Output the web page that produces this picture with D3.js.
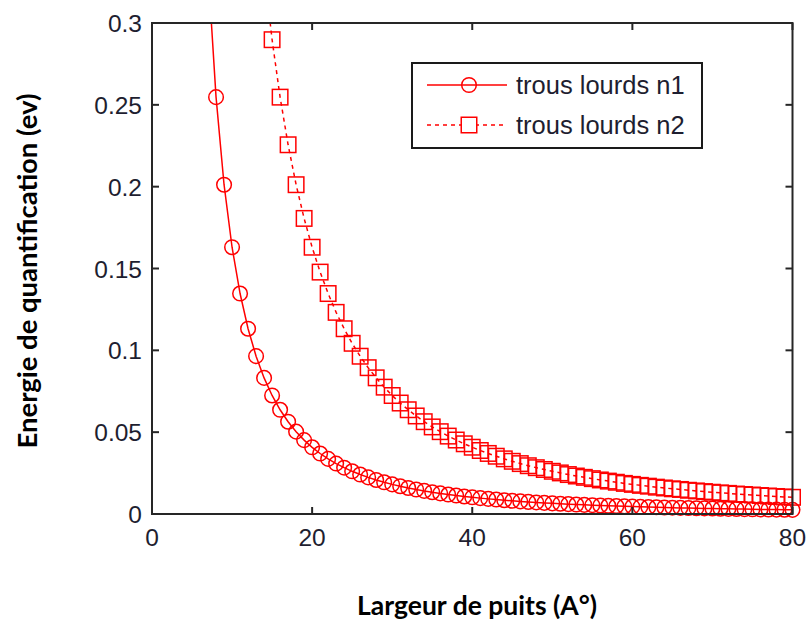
<!DOCTYPE html>
<html><head><meta charset="utf-8">
<script src="https://cdn.jsdelivr.net/npm/d3@7"></script>
<style>body{margin:0;background:#fff}svg{display:block}</style>
</head><body>
<svg id="c" width="810" height="626"></svg>
<script>
const widths = [7,8,9,10,11,12,13,14,15,16,17,18,19,20,21,22,23,24,25,26,27,28,29,30,31,32,33,34,35,36,37,38,39,40,41,42,43,44,45,46,47,48,49,50,51,52,53,54,55,56,57,58,59,60,61,62,63,64,65,66,67,68,69,70,71,72,73,74,75,76,77,78,79,80];
const n1 = [0.3327,0.2547,0.2012,0.1630,0.1347,0.1132,0.09645,0.08316,0.07244,0.06367,0.05640,0.05031,0.04515,0.04075,0.03696,0.03368,0.03081,0.02830,0.02608,0.02411,0.02236,0.02079,0.01938,0.01811,0.01696,0.01592,0.01497,0.01410,0.01331,0.01258,0.01191,0.01129,0.01072,0.01019,0.00970,0.00924,0.00882,0.00842,0.00805,0.00770,0.00738,0.00707,0.00679,0.00652,0.00627,0.00603,0.00580,0.00559,0.00539,0.00520,0.00502,0.00485,0.00468,0.00453,0.00438,0.00424,0.00411,0.00398,0.00386,0.00374,0.00363,0.00353,0.00342,0.00333,0.00323,0.00314,0.00306,0.00298,0.00290,0.00282,0.00275,0.00268,0.00261,0.00255];
const n2 = [1.3306,1.0188,0.8047,0.6520,0.5388,0.4528,0.3858,0.3327,0.2898,0.2547,0.2256,0.2012,0.1806,0.1630,0.1478,0.1347,0.1232,0.1132,0.1043,0.0964,0.0894,0.0832,0.0775,0.0724,0.0678,0.0637,0.0599,0.0564,0.0532,0.0503,0.0476,0.0452,0.0429,0.0408,0.0388,0.0370,0.0353,0.0337,0.0322,0.0308,0.0295,0.0283,0.0272,0.0261,0.0251,0.0241,0.0232,0.0224,0.0216,0.0208,0.0201,0.0194,0.0187,0.0181,0.0175,0.0170,0.0164,0.0159,0.0154,0.0150,0.0145,0.0141,0.0137,0.0133,0.0129,0.0126,0.0122,0.0119,0.0116,0.0113,0.0110,0.0107,0.0104,0.0102];
const xTicks = [0,20,40,60,80];
const yTicks = [0,0.05,0.1,0.15,0.2,0.25,0.3];
const yTickLabels = ["0","0.05","0.1","0.15","0.2","0.25","0.3"];
const seriesNames = ["trous lourds n1","trous lourds n2"];
const xLabel = "Largeur de puits (A°)";
const yLabel = "Energie de quantification (ev)";

const L = 152, R = 792.5, T = 23, B = 514;
const svg = d3.select("#c");
const x = d3.scaleLinear().domain([0,80]).range([L,R]);
const y = d3.scaleLinear().domain([0,0.3]).range([B,T]);
const red = "#ff0000", axc = "#262626";

svg.append("defs").append("clipPath").attr("id","clip")
  .append("rect").attr("x",L).attr("y",T).attr("width",R-L).attr("height",B-T);

const pts1 = widths.map((w,i)=>[w,n1[i]]);
const pts2 = widths.map((w,i)=>[w,n2[i]]);
const line = d3.line().x(d=>x(d[0])).y(d=>y(d[1]));

const g = svg.append("g");
g.append("path").attr("clip-path","url(#clip)").attr("d",line(pts1))
  .attr("fill","none").attr("stroke",red).attr("stroke-width",1.5);
g.append("path").attr("clip-path","url(#clip)").attr("d",line(pts2))
  .attr("fill","none").attr("stroke",red).attr("stroke-width",1.5).attr("stroke-dasharray","4,4");

const inR = d=>d[1]<=0.3;
g.selectAll("circle.m").data(pts1.filter(inR)).join("circle")
  .attr("cx",d=>x(d[0])).attr("cy",d=>y(d[1])).attr("r",7.3)
  .attr("fill","none").attr("stroke",red).attr("stroke-width",1.5);
const s = 15.5;
g.selectAll("rect.m").data(pts2.filter(inR)).join("rect")
  .attr("x",d=>x(d[0])-s/2).attr("y",d=>y(d[1])-s/2).attr("width",s).attr("height",s)
  .attr("fill","none").attr("stroke",red).attr("stroke-width",1.5);

// axes box
const ax = svg.append("g");
const tl = 7;
xTicks.forEach(t=>{
  ax.append("line").attr("x1",x(t)).attr("x2",x(t)).attr("y1",B).attr("y2",B-tl).attr("stroke",axc).attr("stroke-width",2);
  ax.append("line").attr("x1",x(t)).attr("x2",x(t)).attr("y1",T).attr("y2",T+tl).attr("stroke",axc).attr("stroke-width",2);
  ax.append("text").attr("x",x(t)).attr("y",546).attr("text-anchor","middle")
    .attr("font-family","Liberation Sans, Arial, sans-serif").attr("font-size",24.5).attr("fill","#1e1e30").text(t);
});
yTicks.forEach((t,i)=>{
  ax.append("line").attr("x1",L).attr("x2",L+tl).attr("y1",y(t)).attr("y2",y(t)).attr("stroke",axc).attr("stroke-width",2);
  ax.append("line").attr("x1",R).attr("x2",R-tl).attr("y1",y(t)).attr("y2",y(t)).attr("stroke",axc).attr("stroke-width",2);
  ax.append("text").attr("x",142).attr("y",y(t)+9).attr("text-anchor","end")
    .attr("font-family","Liberation Sans, Arial, sans-serif").attr("font-size",24.5).attr("fill","#1e1e30").text(yTickLabels[i]);
});
ax.append("rect").attr("x",L).attr("y",T).attr("width",R-L).attr("height",B-T)
  .attr("fill","none").attr("stroke",axc).attr("stroke-width",2);

// legend
const lg = svg.append("g");
lg.append("rect").attr("x",412).attr("y",63).attr("width",290).attr("height",85)
  .attr("fill","#fff").attr("stroke","#1a1a1a").attr("stroke-width",2);
const rows = [85,125];
lg.append("line").attr("x1",427).attr("x2",507).attr("y1",rows[0]).attr("y2",rows[0]).attr("stroke",red).attr("stroke-width",1.5);
lg.append("circle").attr("cx",469).attr("cy",rows[0]).attr("r",7.3).attr("fill","none").attr("stroke",red).attr("stroke-width",1.5);
lg.append("line").attr("x1",427).attr("x2",507).attr("y1",rows[1]).attr("y2",rows[1]).attr("stroke",red).attr("stroke-width",1.5).attr("stroke-dasharray","4,4");
lg.append("rect").attr("x",469-s/2).attr("y",rows[1]-s/2).attr("width",s).attr("height",s).attr("fill","#fff").attr("stroke",red).attr("stroke-width",1.5);
seriesNames.forEach((n,i)=>{
  lg.append("text").attr("x",516).attr("y",rows[i]+9).attr("font-family","Liberation Sans, Arial, sans-serif")
    .attr("font-size",25.5).attr("fill","#1e1e30").text(n);
});

// axis labels
svg.append("text").attr("x",477).attr("y",615).attr("text-anchor","middle")
  .attr("font-family","Lato, 'Open Sans', sans-serif").attr("font-weight","bold").attr("font-size",27)
  .attr("fill","#000").attr("textLength",240).attr("lengthAdjust","spacingAndGlyphs").text(xLabel);
svg.append("text").attr("transform","translate(37,271) rotate(-90)").attr("text-anchor","middle")
  .attr("font-family","Lato, 'Open Sans', sans-serif").attr("font-weight","bold").attr("font-size",27)
  .attr("fill","#000").attr("textLength",355).attr("lengthAdjust","spacingAndGlyphs").text(yLabel);
</script>
</body></html>
